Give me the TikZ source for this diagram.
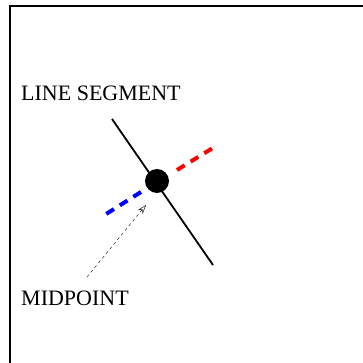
\documentclass[tikz,border=0pt]{standalone}
\usepackage{fontspec}
\setmainfont{Liberation Serif}
\usetikzlibrary{arrows.meta}
\tikzset{
  frameln/.style  = {black, line width=1.2pt},
  segln/.style    = {black, line width=1.8pt},
  perpred/.style  = {red, line width=4pt, dash pattern=on 9pt off 7pt},
  perpblue/.style = {blue, line width=4pt, dash pattern=on 9pt off 7pt},
  pointer/.style  = {-{Stealth[open,length=9pt,width=6pt]}, thin, dash pattern=on 3pt off 3pt},
  labeltxt/.style = {font=\fontsize{22}{24}\selectfont, inner sep=0pt, anchor=base west}
}
\begin{document}
\begin{tikzpicture}[x=1pt,y=-1pt]
  \useasboundingbox (0,0) rectangle (363,363);
  % frame
  \draw[frameln] (10,363) -- (10,6) -- (363,6);
  % points
  \coordinate (segA) at (112,119);
  \coordinate (segB) at (213,265);
  \coordinate (redA) at (177,170);
  \coordinate (redB) at (216,146);
  \coordinate (blueA) at (141,192);
  \coordinate (blueB) at (103,216);
  \coordinate (tail) at (87,277);
  \coordinate (head) at (146,205);
  % segment and perpendicular pieces
  \draw[segln] (segA) -- (segB);
  \draw[perpred] (redA) -- (redB);
  \draw[perpblue] (blueA) -- (blueB);
  \node[circle,fill=black,minimum size=24pt,inner sep=0pt] (mid) at (157,181) {};
  \draw[pointer] (tail) -- (head);
  % labels
  \node[labeltxt] (seglabel) at (21,101) {LINE SEGMENT};
  \node[labeltxt] (midlabel) at (21,305) {MIDPOINT};
\end{tikzpicture}
\end{document}
